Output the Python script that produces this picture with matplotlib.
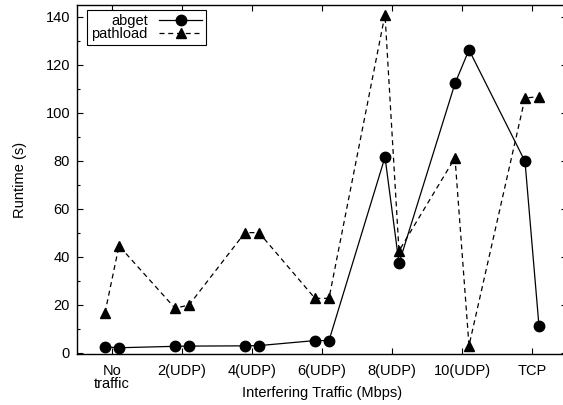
import numpy as np
import matplotlib
matplotlib.use("Agg")
import matplotlib.pyplot as plt
from matplotlib.ticker import MultipleLocator

plt.rcParams['font.family'] = ['Liberation Sans', 'DejaVu Sans']
plt.rcParams['font.size'] = 10.5

# Data
categories = ["No\ntraffic", "2(UDP)", "4(UDP)", "6(UDP)", "8(UDP)", "10(UDP)", "TCP"]
abget_run1 = [2.5, 2.7, 2.9, 5.1, 81.6, 112.3, 79.8]
abget_run2 = [2.1, 2.8, 3.0, 5.1, 37.3, 126.3, 11.1]
pathload_run1 = [16.7, 18.6, 50.1, 22.7, 141.0, 81.3, 106.2]
pathload_run2 = [44.6, 19.9, 50.1, 22.7, 42.5, 3.0, 106.8]
offset = 0.1

# Interleave the two runs per category
pos = np.arange(1, len(categories) + 1)
x = np.ravel(np.column_stack([pos - offset, pos + offset]))
abget = np.ravel(np.column_stack([abget_run1, abget_run2]))
pathload = np.ravel(np.column_stack([pathload_run1, pathload_run2]))

fig = plt.figure(figsize=(5.63, 4.05), dpi=100)
ax = fig.add_axes([77/563, 51/405, 490/563, 349/405])

ax.plot(x, abget, 'k-', marker='o', ms=7.5, lw=0.9, label="abget")
ax.plot(x, pathload, 'k--', marker='^', ms=7, lw=0.9, dashes=(4, 3), label="pathload")

ax.set_xlim(0.5, 7.5)
ax.set_ylim(-0.5, 145)
ax.set_xticks(pos)
ax.set_xticklabels(categories, linespacing=0.95)
ax.yaxis.set_major_locator(MultipleLocator(20))
ax.yaxis.set_minor_locator(MultipleLocator(10))
ax.tick_params(which='both', direction='in', top=True, right=True, width=0.8)
ax.tick_params(which='major', length=4)
ax.tick_params(which='minor', length=2)
ax.tick_params(axis='x', which='minor', bottom=False, top=False)
ax.tick_params(axis='y', pad=5)
ax.tick_params(axis='x', pad=7)
for s in ax.spines.values():
    s.set_linewidth(1.0)

# gnuplot-style axis titles, placed independently of the tick labels
fig.text(322/563, (405 - 397)/405, "Interfering Traffic (Mbps)", ha='center', va='baseline')
ax.set_ylabel("Runtime (s)")
ax.yaxis.set_label_coords((27 - 77)/490, 0.5)

leg = ax.legend(loc='upper left', bbox_to_anchor=(10/490, 1 - 5/349), markerfirst=False,
                handlelength=2.9, fancybox=False, framealpha=1, edgecolor='black',
                borderpad=0.3, labelspacing=-0.1, handletextpad=0.8, borderaxespad=0)
leg.get_frame().set_linewidth(0.8)
for t in leg.get_texts():
    t.set_ha('right')

fig.savefig("out.png", dpi=100)
